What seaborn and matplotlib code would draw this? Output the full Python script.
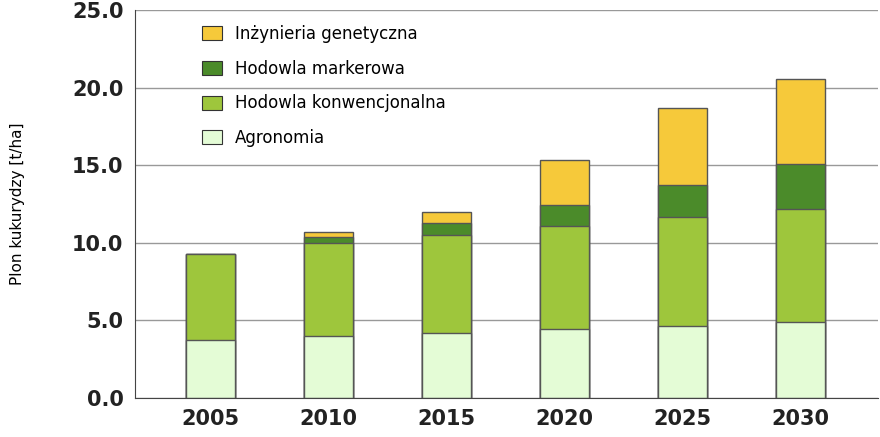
import matplotlib
matplotlib.use("Agg")
import matplotlib.pyplot as plt
import seaborn as sns
import numpy as np
import pandas as pd
from matplotlib.patches import Patch

years = ["2005", "2010", "2015", "2020", "2025", "2030"]
agronomia = [3.7, 3.95, 4.2, 4.45, 4.65, 4.85]
konwencjonalna = [5.54, 6.0, 6.27, 6.6, 6.98, 7.35]
markerowa = [0.0, 0.39, 0.77, 1.35, 2.07, 2.9]
genetyczna = [0.0, 0.32, 0.76, 2.9, 4.97, 5.44]
yticks = [0, 5, 10, 15, 20, 25]

names = ["Inżynieria genetyczna", "Hodowla markerowa", "Hodowla konwencjonalna", "Agronomia"]
colors = ["#F6C93A", "#4B8B2A", "#9EC63C", "#E4FCD6"]

a = np.array(agronomia); k = np.array(konwencjonalna)
m = np.array(markerowa); g = np.array(genetyczna)
cum = [a + k + m + g, a + k + m, a + k, a]

fig, ax = plt.subplots(figsize=(8.8, 4.37), dpi=100)
fig.subplots_adjust(left=0.153, right=0.998, top=0.977, bottom=0.09)
ax.set_axisbelow(True)
ax.yaxis.grid(True, color="#999999", lw=1)
for vals, c in zip(cum, colors):
    df = pd.DataFrame({"year": years, "v": vals})
    sns.barplot(data=df, x="year", y="v", color=c, width=0.42, edgecolor="#555555",
                linewidth=1, ax=ax, saturation=1)
ax.set_ylim(0, 25)
ax.set_xlim(-0.645, 5.66)
ax.set_yticks(yticks)
ax.set_yticklabels([f"{t:.1f}" for t in yticks], fontsize=15, fontweight="bold", color="#222222")
ax.set_xticklabels(years, fontsize=15, fontweight="bold", color="#222222")
ax.set_xlabel("")
ax.set_ylabel("Plon kukurydzy [t/ha]", fontsize=11, labelpad=34)
for s in ["top", "right"]:
    ax.spines[s].set_visible(False)
ax.spines["left"].set_color("#444444"); ax.spines["bottom"].set_color("#444444")
ax.tick_params(length=0, pad=8)
handles = [Patch(facecolor=c, edgecolor="#333333", lw=0.8) for c in colors]
ax.legend(handles, names, loc="upper left", bbox_to_anchor=(0.07, 1.0), frameon=False,
          fontsize=12, labelspacing=1.0, handlelength=1.2, handleheight=0.9)
fig.savefig("out.png", dpi=100)
